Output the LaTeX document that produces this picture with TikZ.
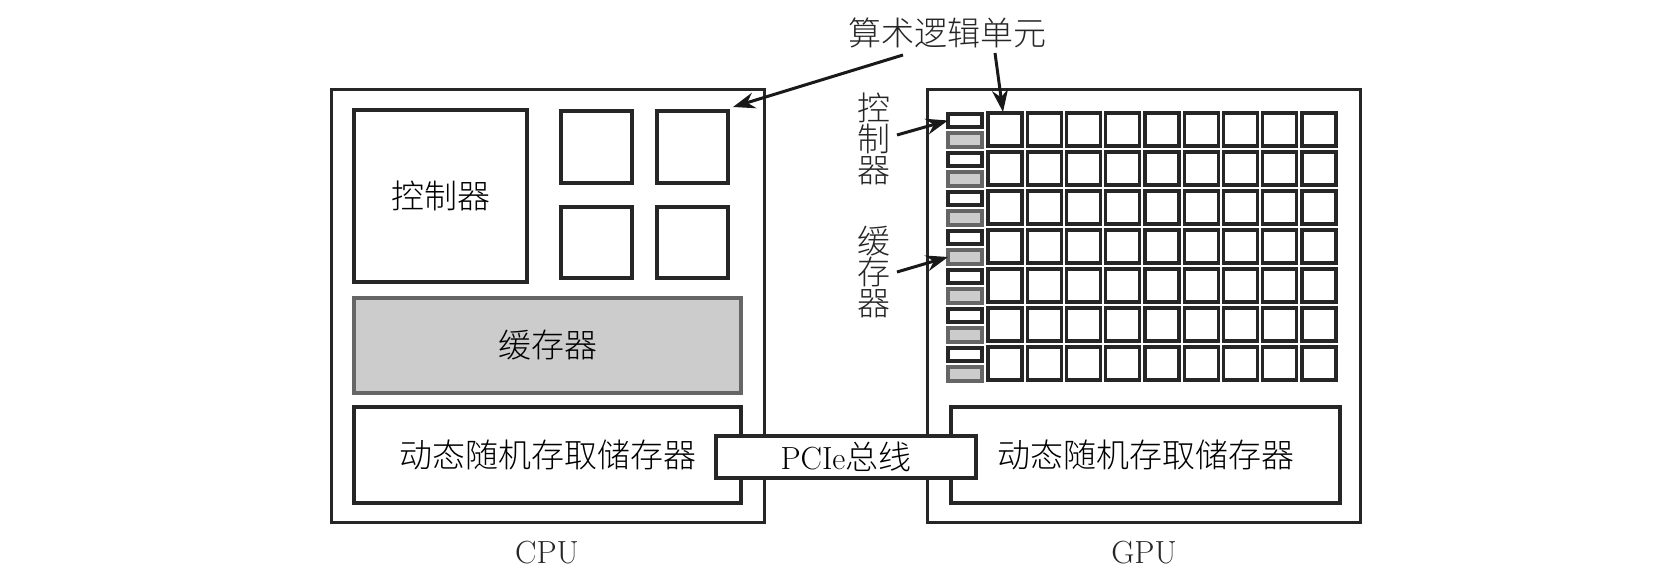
\documentclass[tikz,border=0pt]{standalone}
\usepackage{fontspec}
\newfontfamily\cjk{Noto Sans CJK SC}[UprightFont={* Light}]
\usetikzlibrary{arrows.meta}
\tikzset{
  box/.style={draw=black!85, line width=1.6pt, fill=white, inner sep=0pt, outer sep=0pt},
  outerbox/.style={draw=black!85, line width=1.5pt, inner sep=0pt, outer sep=0pt},
  graybox/.style={draw=black!60, fill=black!20, line width=1.6pt, inner sep=0pt, outer sep=0pt},
  arr/.style={-{Stealth[length=11pt,width=8pt]}, line width=1.5pt, draw=black!90},
  cjktext/.style={font=\cjk\fontsize{16.5}{15.5}\selectfont, text=black!85},
  lattext/.style={font=\fontsize{16}{19}\selectfont, text=black!85},
}
\newcommand\rect[7]{%
  \node[#1, minimum width={(#5-#3)*0.5pt}, minimum height={(#6-#4)*0.5pt}] (#2) at ({(#3+#5)/2},{(#4+#6)/2}) {#7};}
\begin{document}
\begin{tikzpicture}[x=0.5pt,y=-0.5pt]
\useasboundingbox (0,0) rectangle (1670,582);
% CPU
\rect{outerbox}{cpu}{331}{90}{764}{522}{}
\rect{box}{ctrl}{354}{110}{527}{282}{\cjk\fontsize{16.5}{19}\selectfont 控制器}
\rect{box}{alu11}{561}{111}{632}{183}{}
\rect{box}{alu12}{657}{111}{728}{183}{}
\rect{box}{alu21}{561}{207}{632}{278}{}
\rect{box}{alu22}{657}{207}{728}{278}{}
\rect{graybox}{cache}{354}{298}{741}{393}{\cjk\fontsize{16.5}{19}\selectfont 缓存器}
\rect{box}{dram1}{354}{407}{741}{503}{\cjk\fontsize{16.5}{19}\selectfont 动态随机存取储存器}
% GPU
\rect{outerbox}{gpu}{927}{90}{1360}{522}{}
\rect{box}{dram2}{951}{407}{1340}{503}{\cjk\fontsize{16.5}{19}\selectfont 动态随机存取储存器}
\foreach \j in {0,...,6}{
  \pgfmathsetmacro\ya{113+39*\j}
  \pgfmathsetmacro\yc{114+39*\j}
  \pgfmathsetmacro\yg{133+39*\j}
  \rect{box}{c-\j}{948}{\yc}{982}{\yc+13}{}
  \rect{graybox}{k-\j}{948}{\yg}{982}{\yg+14}{}
  \foreach \i in {0,...,8}{
    \pgfmathsetmacro\xa{988+39.25*\i}
    \rect{box}{g-\i-\j}{\xa}{\ya}{\xa+34}{\ya+33}{}
  }
}
% PCIe
\rect{box}{pcie}{716}{436}{976}{478}{{\fontsize{16}{19}\selectfont PCIe}{\cjk\fontsize{16.5}{19}\selectfont 总线}}
% labels
\node[lattext] (cpulab) at (547,553) {CPU};
\node[lattext] (gpulab) at (1144,553) {GPU};
\node[cjktext] (alulab) at (947,33) {算术逻辑单元};
\node[cjktext, align=center] (ctrllab) at (874,139) {控\\制\\器};
\node[cjktext, align=center] (cachelab) at (874,272) {缓\\存\\器};
% arrows
\coordinate (a1s) at (903,55);
\coordinate (a1e) at (733,107);
\coordinate (a2s) at (995,53);
\coordinate (a2e) at (1003,112);
\coordinate (a3s) at (897,135);
\coordinate (a4s) at (897,272);
\draw[arr] (a1s) -- (a1e);
\draw[arr] (a2s) -- (a2e);
\draw[arr] (a3s) -- (c-0.west);
\draw[arr] (a4s) -- (k-3.west);
\end{tikzpicture}
\end{document}
